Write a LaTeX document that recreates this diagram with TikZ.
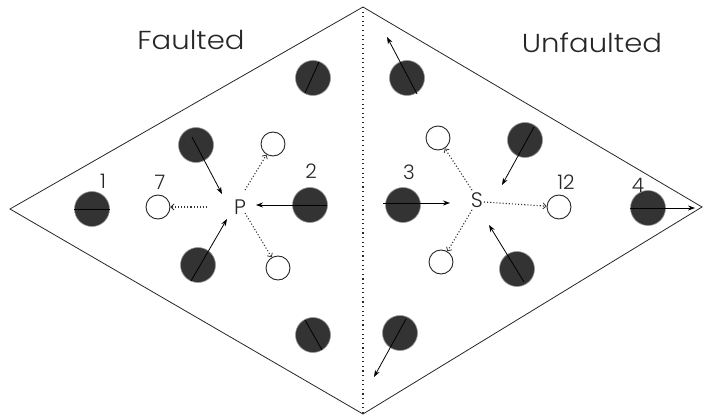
\documentclass[tikz,border=0pt]{standalone}
\usepackage{fontspec}
\IfFontExistsTF{Poppins Light}{\setmainfont{Poppins Light}}{\setmainfont{Poppins}}
\usetikzlibrary{arrows.meta,calc}
\definecolor{darkfill}{HTML}{333333}
\begin{document}
\begin{tikzpicture}[x=1pt,y=-1pt,
  dark/.style={circle,fill=darkfill,draw=gray!80,line width=0.6pt,minimum size=35pt,inner sep=0pt},
  hollow/.style={circle,draw=black!85,line width=0.9pt,fill=white,minimum size=24pt,inner sep=0pt},
  title/.style={font=\fontsize{26}{26}\selectfont\addfontfeature{FakeStretch=1.12},text=black!85},
  num/.style={font=\fontsize{20}{20}\selectfont,text=black!85,inner sep=0pt},
  site/.style={font=\fontsize{21}{21}\selectfont,text=black!85,inner sep=0pt},
  edge/.style={line width=0.8pt,black!85},
  innerline/.style={line width=0.8pt,black},
  arr/.style={line width=0.8pt,black,-{Stealth[length=7pt,width=5pt]}},
  darr/.style={line width=1.1pt,black!80,dash pattern=on 1.1pt off 2pt,-{Straight Barb[length=3pt,width=6pt,line width=0.8pt]}}
]
\useasboundingbox (0,0) rectangle (704,417);
% frame
\coordinate (L) at (10,209);
\coordinate (T) at (363,7);
\coordinate (R) at (702,207);
\coordinate (B) at (363,414);
\draw[edge] (L) -- (T) -- (R) -- (B) -- cycle;
\draw[line width=1.1pt,black!85,dash pattern=on 1.1pt off 3.5pt] (T) -- (B);
% titles
\node[title] (faulted) at (191,40) {Faulted};
\node[title] (unfaulted) at (592,43) {Unfaulted};
% faulted side
\node[dark] (dA) at (313,78) {};
\node[dark] (dB) at (196,145) {};
\node[dark] (d1) at (92,209) {};
\node[dark] (d2) at (310,205) {};
\node[dark] (dC) at (198,265) {};
\node[dark] (dD) at (313,335) {};
\node[hollow] (o7) at (158,207) {};
\node[hollow] (oU) at (273,144) {};
\node[hollow] (oL) at (278,268) {};
\node[site] (P) at (240,207) {P};
\node[num] (n1) at (103,181) {1};
\node[num] (n7) at (160,182) {7};
\node[num] (n2) at (311,171) {2};
\draw[innerline] ($(dA)+(-8,15)$) -- ($(dA)+(6,-16)$);
\draw[innerline] (d1.west) -- (d1.east);
\draw[innerline] ($(dD)+(-8,-15)$) -- ($(dD)+(9,15)$);
\coordinate (bB) at (192,137);
\coordinate (tB) at (222,194);
\draw[arr] (bB) -- (tB);
\coordinate (b2) at (327,205);
\coordinate (t2) at (256,205);
\draw[arr] (b2) -- (t2);
\coordinate (bC) at (191,281);
\coordinate (tC) at (227,219);
\draw[arr] (bC) -- (tC);
\coordinate (p7) at (207,207);
\coordinate (pU) at (245,190);
\coordinate (pL) at (245,213);
\draw[darr] (p7) -- (o7);
\draw[darr] (pU) -- (oU);
\draw[darr] (pL) -- (oL);
% unfaulted side
\node[dark] (dE) at (407,78) {};
\node[dark] (dF) at (525,140) {};
\node[dark] (d3) at (403,205) {};
\node[dark] (d4) at (648,208) {};
\node[dark] (dG) at (517,269) {};
\node[dark] (dH) at (400,333) {};
\node[hollow] (o12) at (559,207) {};
\node[hollow] (oUL) at (438,138) {};
\node[hollow] (oLL) at (441,262) {};
\node[site] (S) at (477,200) {S};
\node[num] (n3) at (409,172) {3};
\node[num] (n12) at (566,182) {12};
\node[num] (n4) at (638,185) {4};
\coordinate (bE) at (417,94);
\coordinate (tE) at (387,37);
\draw[arr] (bE) -- (tE);
\coordinate (bF) at (534,127);
\coordinate (tF) at (502,185);
\draw[arr] (bF) -- (tF);
\coordinate (b3) at (383,203);
\coordinate (t3) at (450,203);
\draw[arr] (b3) -- (t3);
\coordinate (b4) at (630,208);
\coordinate (t4) at (695,208);
\draw[arr] (b4) -- (t4);
\coordinate (bG) at (524,282);
\coordinate (tG) at (489,225);
\draw[arr] (bG) -- (tG);
\coordinate (bH) at (406,319);
\coordinate (tH) at (374,377);
\draw[arr] (bH) -- (tH);
\coordinate (s12) at (484,202);
\coordinate (sU) at (472,190);
\coordinate (sL) at (472,210);
\draw[darr] (s12) -- (o12);
\draw[darr] (sU) -- (oUL);
\draw[darr] (sL) -- (oLL);
\end{tikzpicture}
\end{document}
